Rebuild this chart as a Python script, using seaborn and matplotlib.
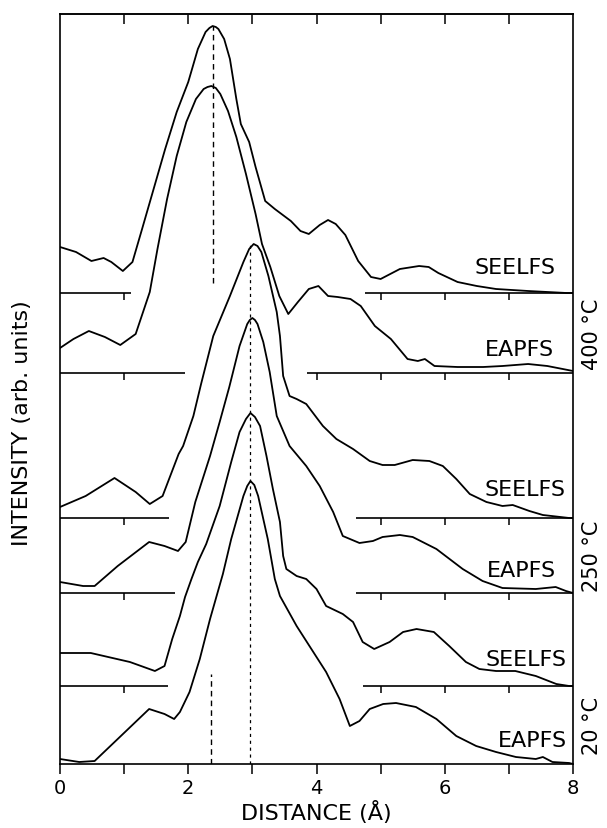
import numpy as np
import pandas as pd
import matplotlib
matplotlib.use("Agg")
import matplotlib.pyplot as plt
import seaborn as sns

# ---------------- data ----------------
# distance in Angstrom, intensity in arbitrary units above each curve's own baseline
seelfs_400_x = [0, 0.25, 0.49, 0.68, 0.8, 0.98, 1.13, 1.28, 1.46, 1.64, 1.82, 2.0, 2.15, 2.27, 2.33,
                2.38, 2.43, 2.47, 2.56, 2.65, 2.75, 2.82, 2.95, 3.05, 3.2, 3.35, 3.6, 3.75, 3.88, 4.05,
                4.18, 4.3, 4.45, 4.65, 4.85, 5.0, 5.3, 5.6, 5.75, 5.9, 6.2, 6.5, 6.8, 7.3, 7.9, 8.0]
seelfs_400_y = [46, 41, 32, 35, 31, 22, 31, 64, 104, 144, 181, 211, 244, 261, 265,
                267, 266, 264, 254, 234, 194, 169, 151, 126, 92, 84, 72, 62, 59, 68,
                73, 69, 58, 32, 16, 14, 24, 27, 26, 20, 11, 7, 4, 2, 0, 0]

eapfs_400_x = [0, 0.21, 0.45, 0.7, 0.94, 1.18, 1.40, 1.52, 1.67, 1.82, 1.97, 2.12, 2.24, 2.30, 2.36,
               2.43, 2.5, 2.62, 2.75, 2.9, 3.05, 3.15, 3.28, 3.42, 3.56, 3.71, 3.88, 4.03, 4.18, 4.33,
               4.53, 4.69, 4.91, 5.16, 5.42, 5.58, 5.69, 5.84, 6.2, 6.6, 6.9, 7.3, 7.6, 8.0]
eapfs_400_y = [25, 34, 42, 36, 28, 39, 81, 124, 174, 217, 251, 274, 284, 286, 287,
               285, 279, 262, 236, 199, 159, 129, 106, 77, 59, 71, 84, 87, 77, 76,
               74, 67, 47, 34, 14, 12, 14, 7, 6, 6, 7, 9, 7, 2]

seelfs_250_x = [0, 0.4, 0.85, 1.18, 1.4, 1.6, 1.85, 1.92, 2.08, 2.2, 2.39, 2.65, 2.86, 2.95, 3.02,
                3.08, 3.14, 3.25, 3.38, 3.43, 3.48, 3.58, 3.69, 3.84, 4.1, 4.31, 4.57, 4.83, 5.03,
                5.22, 5.5, 5.76, 5.97, 6.18, 6.39, 6.65, 6.9, 7.06, 7.32, 7.53, 7.94, 8.0]
seelfs_250_y = [11, 22, 40, 26, 14, 22, 64, 72, 102, 134, 182, 222, 256, 269, 274,
                272, 266, 242, 206, 182, 142, 122, 119, 114, 92, 79, 69, 57, 53,
                53, 58, 57, 52, 39, 24, 16, 12, 13, 7, 3, 0, 0]

eapfs_250_x = [0, 0.36, 0.54, 0.9, 1.39, 1.63, 1.84, 1.96, 2.11, 2.34, 2.49, 2.64, 2.8, 2.92, 2.96,
               3.0, 3.04, 3.08, 3.17, 3.27, 3.38, 3.58, 3.84, 4.05, 4.26, 4.41, 4.67, 4.88, 5.03,
               5.3, 5.5, 5.87, 6.28, 6.59, 6.9, 7.42, 7.73, 7.89, 8.0]
eapfs_250_y = [11, 7, 7, 27, 51, 47, 42, 51, 91, 137, 171, 206, 247, 269, 273,
               275, 273, 269, 251, 221, 177, 147, 127, 107, 81, 57, 50, 52, 56,
               58, 56, 44, 24, 12, 5, 4, 6, 2, 0]

seelfs_20_x = [0, 0.48, 1.09, 1.48, 1.63, 1.75, 1.87, 1.95, 2.05, 2.15, 2.28, 2.49, 2.67, 2.8, 2.9,
               2.97, 3.04, 3.12, 3.22, 3.32, 3.43, 3.48, 3.53, 3.69, 3.84, 4.0, 4.15, 4.41, 4.57,
               4.72, 4.9, 5.14, 5.35, 5.56, 5.83, 6.07, 6.33, 6.54, 6.8, 7.1, 7.42, 7.74, 7.94, 8.0]
seelfs_20_y = [33, 33, 24, 15, 20, 47, 70, 89, 107, 124, 142, 180, 224, 254, 267,
               273, 269, 260, 230, 197, 164, 130, 117, 110, 107, 97, 80, 72, 64,
               44, 37, 44, 54, 57, 54, 40, 24, 17, 15, 15, 10, 2, 0, 0]

eapfs_20_x = [0, 0.3, 0.54, 0.9, 1.39, 1.63, 1.78, 1.87, 2.02, 2.18, 2.34, 2.54, 2.67, 2.86, 2.92,
              2.97, 3.03, 3.09, 3.24, 3.35, 3.43, 3.69, 3.95, 4.15, 4.36, 4.52, 4.67, 4.83, 5.04,
              5.24, 5.55, 5.87, 6.18, 6.49, 6.8, 7.11, 7.42, 7.53, 7.68, 7.94, 8.0]
eapfs_20_y = [5, 2, 3, 25, 55, 50, 45, 52, 72, 105, 145, 190, 225, 268, 278,
              283, 279, 268, 225, 185, 168, 138, 112, 92, 65, 38, 43, 55, 60,
              61, 57, 45, 28, 18, 12, 7, 5, 7, 2, 1, 0]

curve_names = ["SEELFS", "EAPFS", "SEELFS", "EAPFS", "SEELFS", "EAPFS"]
temperatures = ["400 °C", "250 °C", "20 °C"]
x_ticks = [0, 2, 4, 6, 8]
x_minor = [1, 3, 5, 7]

# ---------------- layout / style ----------------
curve_offsets = [471, 391, 246, 171, 78, 0]
baseline_left_end = [1.1, 1.95, 1.7, 1.8, 1.68]
baseline_right_start = [4.75, 3.85, 4.62, 4.62, 4.72]
label_right = [7.73, 7.70, 7.88, 7.73, 7.9, 7.9]
label_lift = [26, 24, 29, 23, 27, 24]

xs = [seelfs_400_x, eapfs_400_x, seelfs_250_x, eapfs_250_x, seelfs_20_x, eapfs_20_x]
ys = [seelfs_400_y, eapfs_400_y, seelfs_250_y, eapfs_250_y, seelfs_20_y, eapfs_20_y]

frames = []
for i, (x, y) in enumerate(zip(xs, ys)):
    frames.append(pd.DataFrame({"distance": x, "intensity": y, "curve": i}))
df = pd.concat(frames, ignore_index=True)
df["shifted"] = df["intensity"] + df["curve"].map(dict(enumerate(curve_offsets)))

sns.set_style("ticks")
plt.rcParams["font.family"] = ["DejaVu Sans"]
plt.rcParams["text.color"] = "black"
plt.rcParams["axes.labelcolor"] = "black"
plt.rcParams["xtick.color"] = "black"

W, H = 607, 829
fig = plt.figure(figsize=(W / 100, H / 100), dpi=100)
ax = fig.add_axes([60 / W, 1 - 765 / H, (573 - 60) / W, (765 - 15) / H])

for i in range(6):
    sub = df[df["curve"] == i]
    sns.lineplot(data=sub, x="distance", y="shifted", ax=ax, color="black",
                 lw=1.3, estimator=None, sort=False, legend=False)

# baselines with their ticks
for i in range(5):
    off = curve_offsets[i]
    L, R = baseline_left_end[i], baseline_right_start[i]
    ax.hlines(off, 0, L, color="black", lw=1.2)
    ax.hlines(off, R, 8, color="black", lw=1.2)
    ticks = [t for t in range(1, 8) if t <= L or t >= R]
    ax.vlines(ticks, off - 7, off, color="black", lw=1.1)

# curve labels
for i in range(6):
    ax.text(label_right[i], curve_offsets[i] + label_lift[i], curve_names[i],
            ha="right", va="center", fontsize=16, color="black")

# temperature labels
tr = ax.get_yaxis_transform()
for k, t in enumerate(temperatures):
    ymid = (curve_offsets[2 * k] + curve_offsets[2 * k + 1]) / 2
    ax.text(1.037, ymid, t, transform=tr, rotation=90, ha="center", va="center",
            fontsize=15, color="black")

# peak position markers
ax.vlines(2.38, curve_offsets[0] + 10, curve_offsets[0] + 267, color="black", lw=1.0,
          linestyles=(0, (4, 3)))
ax.vlines(2.96, 0, curve_offsets[2] + 274, color="black", lw=0.9,
          linestyles=(0, (2.5, 3)))
ax.vlines(2.35, 0, 90, color="black", lw=1.0, linestyles=(0, (4, 3)))

ax.set_xlim(0, 8)
ax.set_ylim(0, 750)
ax.set_xticks(x_ticks)
ax.set_xticks(x_minor, minor=True)
ax.set_xticklabels([str(v) for v in x_ticks])
ax.set_yticks([])
ax.tick_params(axis="x", which="both", direction="out", length=7, width=1.1,
               labelsize=14, pad=3, colors="black")
ax.set_xlabel("")
ax.set_ylabel("")
for s in ax.spines.values():
    s.set_visible(True)
    s.set_linewidth(1.2)
    s.set_color("black")

top = ax.secondary_xaxis("top")
top.set_xticks(range(1, 8))
top.tick_params(direction="in", length=7, width=1.1, labeltop=False, colors="black")
top.spines["top"].set_linewidth(1.2)

fig.text(316 / W, 1 - 813 / H, "DISTANCE (Å)", ha="center", va="center", fontsize=16,
         color="black")
fig.text(22 / W, 1 - 423 / H, "INTENSITY (arb. units)", ha="center", va="center",
         rotation=90, fontsize=16, color="black")

fig.savefig("out.png", dpi=100, facecolor="white")
